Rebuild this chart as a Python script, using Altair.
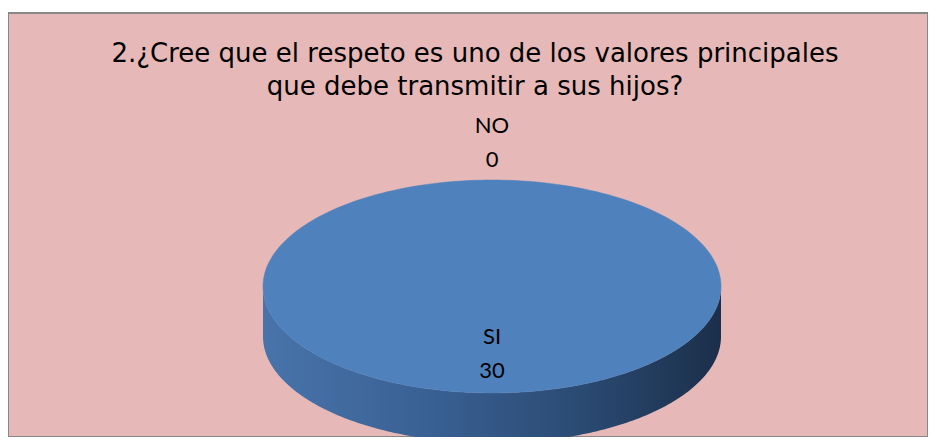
import math
import altair as alt
import pandas as pd

# ---- data ----
categories = ["SI", "NO"]
values = [30, 0]
slice_colors = ["#4F81BD", "#C0504D"]
title_lines = ["2.¿Cree que el respeto es uno de los valores principales",
               "que debe transmitir a sus hijos?"]

# ---- layout constants (units: pie radius = 1) ----
W, H = 920, 424
PX = 229.0                     # pixels per unit
CX_PX, CY_PX = 484.0, 273.5    # pie centre inside the view
RY = 106.5 / PX                # vertical squash of the ellipse
DEPTH = 50.0 / PX              # thickness of the 3-D side
R_IN, R_OUT = 0.638, 1.347     # label radii (fraction of radius)
LAB_LH = 34
N = 240

x_dom = [-CX_PX / PX, (W - CX_PX) / PX]
y_dom = [-(H - CY_PX) / PX, CY_PX / PX]

total = sum(values)
top_rows, side_rows, label_rows = [], [], []
start = 0.0
for cat, v in zip(categories, values):
    span = 2 * math.pi * v / total
    a0, a1 = start, start + span
    mid = (a0 + a1) / 2
    if v > 0:
        pts = []
        full = span >= 2 * math.pi - 1e-9
        if not full:
            pts.append((0.0, 0.0))
        for k in range(N + 1):
            a = a0 + span * k / N
            pts.append((math.sin(a), RY * math.cos(a)))
        for i, (x, y) in enumerate(pts):
            top_rows.append({"cat": cat, "i": i, "x": x, "y": y})
        # visible side: part of the slice that lies on the front half
        f0, f1 = max(a0, math.pi / 2), min(a1, 3 * math.pi / 2)
        if f1 > f0:
            upper = [(math.sin(f0 + (f1 - f0) * k / N), RY * math.cos(f0 + (f1 - f0) * k / N))
                     for k in range(N + 1)]
            poly = upper + [(x, y - DEPTH) for (x, y) in reversed(upper)]
            for i, (x, y) in enumerate(poly):
                side_rows.append({"cat": cat, "i": i, "x": x, "y": y})
    r = R_OUT if v == 0 else R_IN
    label_rows.append({"cat": cat, "x": r * math.sin(mid), "y": r * RY * math.cos(mid),
                       "label": f"{cat}\n{v}"})
    start = a1

top_df = pd.DataFrame(top_rows)
side_df = pd.DataFrame(side_rows)
lab_df = pd.DataFrame(label_rows)

xs = alt.Scale(domain=x_dom, nice=False, zero=False)
ys = alt.Scale(domain=y_dom, nice=False, zero=False)
X = alt.X("x:Q", scale=xs, axis=None)
Y = alt.Y("y:Q", scale=ys, axis=None)

side_grad = alt.LinearGradient(
    gradient="linear", x1=0, x2=1, y1=0, y2=0,
    stops=[alt.GradientStop(offset=0, color="#4874AB"),
           alt.GradientStop(offset=0.35, color="#3A6194"),
           alt.GradientStop(offset=0.7, color="#2A4A72"),
           alt.GradientStop(offset=1, color="#1B2F4A")])

side = alt.Chart(side_df).mark_line(fill=side_grad, strokeWidth=0, interpolate="linear").encode(
    x=X, y=Y, order="i:Q", detail="cat:N")

top = alt.Chart(top_df).mark_line(fill=slice_colors[0], stroke=slice_colors[0], strokeWidth=0.5).encode(
    x=X, y=Y, order="i:Q", detail="cat:N")

labels = alt.Chart(lab_df).mark_text(font="Lato", fontSize=22, lineBreak="\n", lineHeight=LAB_LH,
                                     dy=-LAB_LH / 2, color="black", baseline="middle",
                                     align="center").encode(
    x=X, y=Y, text="label:N")

chart = alt.layer(side, top, labels).properties(
    width=W, height=H,
    title=alt.TitleParams(text=title_lines, anchor="middle", orient="top", offset=-87, dx=7,
                          font="DejaVu Sans", fontSize=26, fontWeight="normal",
                          color="black", lineHeight=33),
    padding={"left": 0, "top": 5, "right": 0, "bottom": 0},
    autosize=alt.AutoSizeParams(type="none"),
).configure(background="white").configure_view(fill="#E6B9B8", stroke="#878787", strokeWidth=2)

chart.save("out.html", embed_options={"renderer": "svg", "actions": False})
